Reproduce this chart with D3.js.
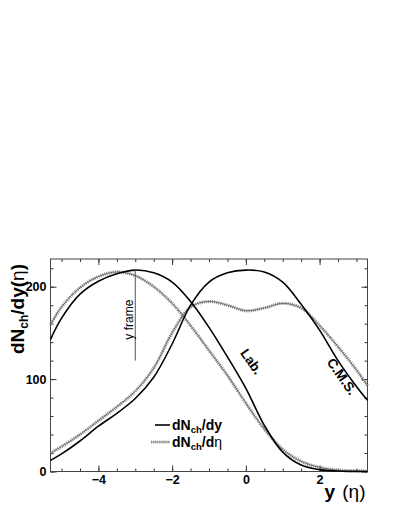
<!DOCTYPE html>
<html>
<head>
<meta charset="utf-8">
<script src="https://cdn.jsdelivr.net/npm/d3@7"></script>
<style>
  body { margin: 0; background: #fff; }
  svg { display: block; font-family: "Liberation Sans", Arial, sans-serif; }
  .axis text { font-size: 12.5px; font-weight: bold; fill: #000; }
  .axis line { stroke: #333; }
  .axis path { display: none; }
</style>
</head>
<body>
<svg id="chart"></svg>
<script>
// rapidity / pseudorapidity grid shared by all curves
const xs      = [-5.3, -5.0, -4.5, -4.0, -3.5, -3.0, -2.5, -2.0, -1.5, -1.0, -0.5, 0.0, 0.5, 1.0, 1.5, 2.0, 2.5, 3.0, 3.3];
const labDy   = [143, 166, 192, 206, 214, 218, 215, 205, 184, 156, 124, 90, 50, 21, 7, 2, 0.5, 0, 0];
const labDeta = [159, 178, 199, 211, 216, 212, 200, 182, 158, 131, 104, 74, 46, 24, 11, 4.5, 1.5, 0.8, 0.5];
const cmsDy   = [12, 19, 33, 49, 63, 79, 102, 138, 180, 205, 215, 218, 216, 205, 181, 153, 120, 92, 77];
const cmsDeta = [20, 27, 40, 55, 70, 87, 112, 150, 178, 184, 180, 174, 177, 182, 177, 158, 135, 110, 93];

const xMajor = [-4, -2, 0, 2];
const yMajor = [0, 100, 200];
const yFrameX = -3, yFrameSpan = [120, 218];

const W = 399, H = 516;
const frame = {left: 50.5, right: 367.5, top: 259, bottom: 471.5};

const svg = d3.select('#chart').attr('width', W).attr('height', H);

const x = d3.scaleLinear().domain([-5.3, 3.3]).range([frame.left, frame.right]);
const y = d3.scaleLinear().domain([0, 230]).range([frame.bottom, frame.top]);

const xMinor = d3.range(-5, 3.01, 0.5);
const yMinor = d3.range(0, 230, 20);

// ticks, all pointing into the frame
svg.append('g').attr('class', 'axis').attr('transform', `translate(0,${frame.bottom})`)
  .call(d3.axisBottom(x).tickValues(xMinor).tickSize(-3).tickFormat(''));
svg.append('g').attr('class', 'axis').attr('transform', `translate(0,${frame.bottom})`)
  .call(d3.axisBottom(x).tickValues(xMajor).tickSize(-6).tickPadding(4).tickFormat(d3.format('d')));
svg.append('g').attr('class', 'axis').attr('transform', `translate(0,${frame.top})`)
  .call(d3.axisTop(x).tickValues(xMinor).tickSize(-3).tickFormat(''));
svg.append('g').attr('class', 'axis').attr('transform', `translate(0,${frame.top})`)
  .call(d3.axisTop(x).tickValues(xMajor).tickSize(-6).tickFormat(''));

svg.append('g').attr('class', 'axis').attr('transform', `translate(${frame.left},0)`)
  .call(d3.axisLeft(y).tickValues(yMinor).tickSize(-3).tickFormat(''));
svg.append('g').attr('class', 'axis').attr('transform', `translate(${frame.left},0)`)
  .call(d3.axisLeft(y).tickValues(yMajor).tickSize(-6).tickPadding(4).tickFormat(d3.format('d')));
svg.append('g').attr('class', 'axis').attr('transform', `translate(${frame.right},0)`)
  .call(d3.axisRight(y).tickValues(yMinor).tickSize(-3).tickFormat(''));
svg.append('g').attr('class', 'axis').attr('transform', `translate(${frame.right},0)`)
  .call(d3.axisRight(y).tickValues(yMajor).tickSize(-6).tickFormat(''));

svg.append('rect')
  .attr('x', frame.left).attr('y', frame.top)
  .attr('width', frame.right - frame.left).attr('height', frame.bottom - frame.top)
  .attr('fill', 'none').attr('stroke', '#444').attr('stroke-width', 1);

const line = d3.line()
  .x(d => x(d[0]))
  .y(d => y(d[1]))
  .curve(d3.curveCatmullRom);

function solid(vals) {
  svg.append('path')
    .datum(d3.zip(xs, vals))
    .attr('d', line)
    .attr('fill', 'none')
    .attr('stroke', '#000')
    .attr('stroke-width', 1.6);
}

function crossed(vals) {
  const pts = d3.zip(xs, vals);
  svg.append('path').datum(pts).attr('d', line)
    .attr('fill', 'none').attr('stroke', '#888').attr('stroke-width', 3.2)
    .attr('stroke-dasharray', '1,1.1');
  svg.append('path').datum(pts).attr('d', line)
    .attr('fill', 'none').attr('stroke', '#555').attr('stroke-width', 0.8);
}

crossed(labDeta);
crossed(cmsDeta);
solid(labDy);
solid(cmsDy);

// y frame marker
svg.append('line')
  .attr('x1', x(yFrameX)).attr('x2', x(yFrameX))
  .attr('y1', y(yFrameSpan[0])).attr('y2', y(yFrameSpan[1]))
  .attr('stroke', '#555').attr('stroke-width', 1);
svg.append('text')
  .attr('transform', `translate(${x(yFrameX) - 2},${y(yFrameSpan[0]) - 21}) rotate(-90)`)
  .attr('font-size', 12)
  .text('y frame');

svg.append('text')
  .attr('transform', `translate(${x(0.05)},${y(116)}) rotate(55)`)
  .attr('text-anchor', 'middle')
  .attr('font-size', 13.5).attr('font-weight', 'bold')
  .text('Lab.');
svg.append('text')
  .attr('transform', `translate(${x(2.5)},${y(100)}) rotate(55)`)
  .attr('text-anchor', 'middle')
  .attr('font-size', 13.5).attr('font-weight', 'bold')
  .text('C.M.S.');

// legend
const lg = svg.append('g').attr('font-weight', 'bold').attr('font-size', 14);
lg.append('line').attr('x1', 155).attr('x2', 170).attr('y1', 425).attr('y2', 425)
  .attr('stroke', '#000').attr('stroke-width', 1.6);
lg.append('line').attr('x1', 151).attr('x2', 170).attr('y1', 442).attr('y2', 442)
  .attr('stroke', '#999').attr('stroke-width', 3.2).attr('stroke-dasharray', '1,1.1');
lg.append('line').attr('x1', 151).attr('x2', 170).attr('y1', 442).attr('y2', 442)
  .attr('stroke', '#777').attr('stroke-width', 0.8);

const t1 = lg.append('text').attr('x', 172).attr('y', 430);
t1.append('tspan').text('dN');
t1.append('tspan').attr('font-size', 9.5).attr('dy', 3).text('ch');
t1.append('tspan').attr('dy', -3).text('/dy');
const t2 = lg.append('text').attr('x', 172).attr('y', 447);
t2.append('tspan').text('dN');
t2.append('tspan').attr('font-size', 9.5).attr('dy', 3).text('ch');
t2.append('tspan').attr('dy', -3).text('/d');
t2.append('tspan').attr('font-weight', 'normal').text('η');

// axis titles
const xt = svg.append('text')
  .attr('x', frame.right - 2).attr('y', 498)
  .attr('text-anchor', 'end')
  .attr('font-size', 19).attr('font-weight', 'bold');
xt.append('tspan').text('y ');
xt.append('tspan').attr('font-weight', 'normal').attr('dx', 2).text('(η)');

const yt = svg.append('text')
  .attr('transform', `translate(24,${frame.top + 5}) rotate(-90)`)
  .attr('text-anchor', 'end')
  .attr('font-size', 19).attr('font-weight', 'bold');
yt.append('tspan').text('dN');
yt.append('tspan').attr('font-size', 12).attr('dy', 4).text('ch');
yt.append('tspan').attr('dy', -4).text('/dy(');
yt.append('tspan').attr('font-weight', 'normal').text('η');
yt.append('tspan').text(')');
</script>
</body>
</html>
